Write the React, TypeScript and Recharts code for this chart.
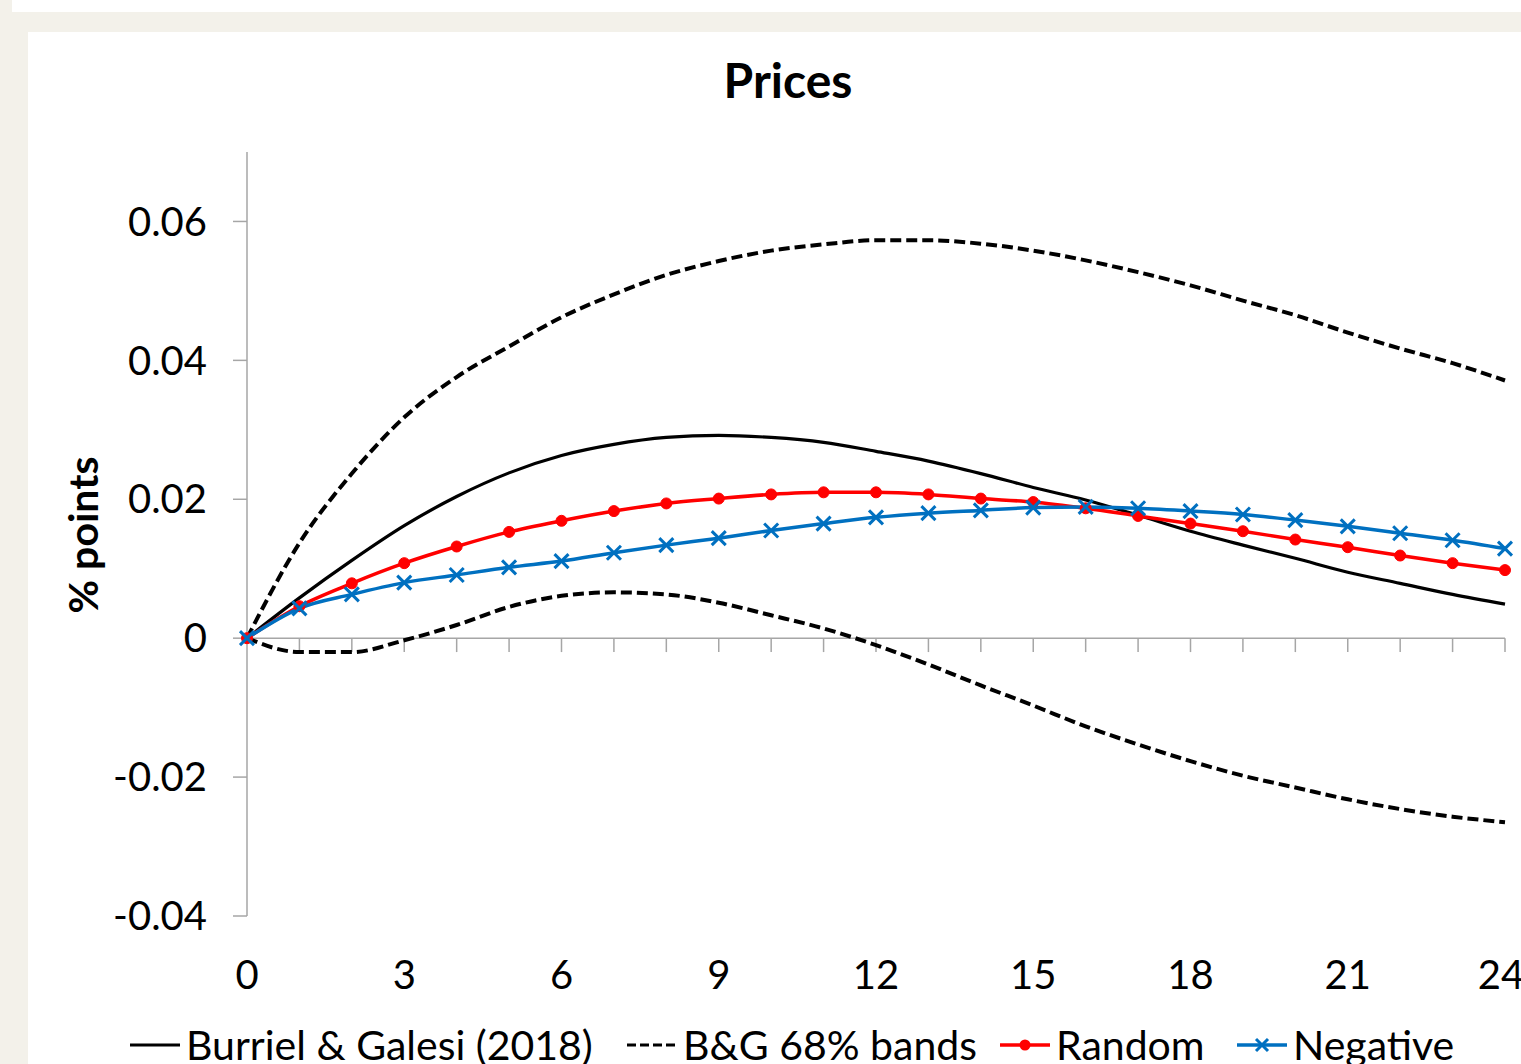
import { Line, LineChart, ReferenceLine, XAxis, YAxis } from "recharts";

const months = [0, 1, 2, 3, 4, 5, 6, 7, 8, 9, 10, 11, 12, 13, 14, 15, 16, 17, 18, 19, 20, 21, 22, 23, 24];

const burrielGalesi = [
  0, 0.0058, 0.0112, 0.0162, 0.0204, 0.0238, 0.0263, 0.0279, 0.0289, 0.0292, 0.0289, 0.0282, 0.0269,
  0.0255, 0.0237, 0.0217, 0.0199, 0.0177, 0.0154, 0.0134, 0.0115, 0.0095, 0.0079, 0.0063, 0.0049,
];

const bandUpper = [
  0, 0.0137, 0.0237, 0.0318, 0.0376, 0.042, 0.0462, 0.0495, 0.0523, 0.0543, 0.0558, 0.0567, 0.0573,
  0.0573, 0.0568, 0.0558, 0.0544, 0.0527, 0.0508, 0.0486, 0.0465, 0.044, 0.0417, 0.0396, 0.0371,
];

const bandLower = [
  0, -0.002, -0.002, -0.0003, 0.0019, 0.0045, 0.0061, 0.0066, 0.0063, 0.0051, 0.0033, 0.0014, -0.001,
  -0.0038, -0.0068, -0.0097, -0.0127, -0.0153, -0.0177, -0.0198, -0.0215, -0.0232, -0.0246, -0.0257, -0.0265,
];

const random = [
  0, 0.0046, 0.0079, 0.0108, 0.0132, 0.0153, 0.0169, 0.0183, 0.0194, 0.0201, 0.0207, 0.021, 0.021,
  0.0207, 0.0201, 0.0196, 0.0187, 0.0176, 0.0165, 0.0154, 0.0142, 0.0131, 0.0119, 0.0108, 0.0098,
];

const negative = [
  0, 0.0043, 0.0063, 0.008, 0.0091, 0.0102, 0.0111, 0.0123, 0.0134, 0.0144, 0.0155, 0.0165, 0.0174,
  0.018, 0.0184, 0.0188, 0.0189, 0.0187, 0.0183, 0.0178, 0.017, 0.0161, 0.0151, 0.0141, 0.0129,
];

const xTicks = [0, 3, 6, 9, 12, 15, 18, 21, 24];
const yTicks = [-0.04, -0.02, 0, 0.02, 0.04, 0.06];

const data = months.map((m, i) => ({
  month: m,
  bg: burrielGalesi[i],
  upper: bandUpper[i],
  lower: bandLower[i],
  random: random[i],
  negative: negative[i],
}));

const AXIS = "#a6a6a6";
const RED = "#ff0000";
const BLUE = "#0070c0";
const FONT = "Lato, 'Open Sans', sans-serif";

function CrossDot(props: { cx?: number; cy?: number; index?: number }) {
  const { cx, cy, index } = props;
  if (cx == null || cy == null) return null;
  const s = 7;
  return (
    <g key={`x-${index}`}>
      <line x1={cx - s} y1={cy - s} x2={cx + s} y2={cy + s} stroke={BLUE} strokeWidth={3} />
      <line x1={cx - s} y1={cy + s} x2={cx + s} y2={cy - s} stroke={BLUE} strokeWidth={3} />
    </g>
  );
}

function LegendItem({ kind, label, left }: { kind: string; label: string; left: number }) {
  return (
    <div style={{ position: "absolute", left, top: 0, display: "flex", alignItems: "center" }}>
      <svg width={54} height={20} style={{ marginRight: 4 }}>
        {kind === "solid" && <line x1={2} y1={10} x2={52} y2={10} stroke="#000" strokeWidth={3} />}
        {kind === "dash" && (
          <line x1={2} y1={10} x2={52} y2={10} stroke="#000" strokeWidth={3} strokeDasharray="9 4" />
        )}
        {kind === "random" && (
          <>
            <line x1={2} y1={10} x2={52} y2={10} stroke={RED} strokeWidth={3.5} />
            <circle cx={27} cy={10} r={5.5} fill={RED} />
          </>
        )}
        {kind === "negative" && (
          <>
            <line x1={2} y1={10} x2={52} y2={10} stroke={BLUE} strokeWidth={3.5} />
            <line x1={21} y1={4} x2={33} y2={16} stroke={BLUE} strokeWidth={3} />
            <line x1={21} y1={16} x2={33} y2={4} stroke={BLUE} strokeWidth={3} />
          </>
        )}
      </svg>
      <span>{label}</span>
    </div>
  );
}

export default function App() {
  return (
    <div
      style={{
        position: "absolute",
        left: 0,
        top: 0,
        width: 1521,
        height: 1064,
        overflow: "hidden",
        background: "#f3f1ea",
        fontFamily: FONT,
      }}
    >
      <div style={{ position: "absolute", left: 12, top: 0, width: 1509, height: 12, background: "#fff" }} />
      <div style={{ position: "absolute", left: 28, top: 32, right: 0, bottom: 0, background: "#fff" }} />
      <div
        style={{
          position: "absolute",
          left: 0,
          width: 1576,
          top: 51,
          textAlign: "center",
          fontSize: 48,
          fontWeight: 700,
          lineHeight: "58px",
        }}
      >
        Prices
      </div>
      <LineChart
        width={1521}
        height={1064}
        data={data}
        margin={{ top: 152, right: 16, bottom: 68, left: 0 }}
        style={{ position: "absolute", left: 0, top: 0 }}
      >
        <XAxis
          dataKey="month"
          type="number"
          domain={[0, 24]}
          ticks={xTicks}
          axisLine={false}
          tickLine={false}
          tickSize={0}
          tickMargin={45}
          height={80}
          tick={{ fontSize: 40, fill: "#000", fontFamily: FONT }}
        />
        <YAxis
          type="number"
          domain={[-0.04, 0.07]}
          ticks={yTicks}
          width={247}
          axisLine={{ stroke: AXIS, strokeWidth: 1.5 }}
          tickLine={{ stroke: AXIS, strokeWidth: 1.5 }}
          tickSize={14}
          tickMargin={26}
          tickFormatter={(v: number) => (v === 0 ? "0" : v.toFixed(2))}
          tick={{ fontSize: 40, fill: "#000", fontFamily: FONT }}
          label={{
            content: () => (
              <text
                x={82}
                y={535}
                transform="rotate(-90 82 535)"
                textAnchor="middle"
                dominantBaseline="central"
                fontSize={41}
                fontWeight={700}
                fontFamily={FONT}
                fill="#000"
              >
                % points
              </text>
            ),
          }}
        />
        <ReferenceLine y={0} stroke={AXIS} strokeWidth={1.5} />
        {months.slice(1).map((m) => (
          <ReferenceLine
            key={`tick-${m}`}
            segment={[
              { x: m, y: 0 },
              { x: m, y: -0.002 },
            ]}
            stroke={AXIS}
            strokeWidth={1.5}
          />
        ))}
        <Line
          dataKey="bg"
          type="monotone"
          stroke="#000"
          strokeWidth={3.2}
          dot={false}
          activeDot={false}
          isAnimationActive={false}
        />
        <Line
          dataKey="upper"
          type="monotone"
          stroke="#000"
          strokeWidth={4}
          strokeDasharray="11 5"
          dot={false}
          activeDot={false}
          isAnimationActive={false}
        />
        <Line
          dataKey="lower"
          type="monotone"
          stroke="#000"
          strokeWidth={4}
          strokeDasharray="11 5"
          dot={false}
          activeDot={false}
          isAnimationActive={false}
        />
        <Line
          dataKey="random"
          type="monotone"
          stroke={RED}
          strokeWidth={3.5}
          dot={{ r: 5.5, fill: RED, stroke: RED, strokeWidth: 1 }}
          activeDot={false}
          isAnimationActive={false}
        />
        <Line
          dataKey="negative"
          type="monotone"
          stroke={BLUE}
          strokeWidth={3.5}
          dot={<CrossDot />}
          activeDot={false}
          isAnimationActive={false}
        />
      </LineChart>
      <div
        style={{
          position: "absolute",
          left: 0,
          top: 1018,
          width: 1521,
          height: 54,
          fontSize: 41,
          lineHeight: "54px",
          whiteSpace: "nowrap",
        }}
      >
        <LegendItem kind="solid" label="Burriel & Galesi (2018)" left={128} />
        <LegendItem kind="dash" label="B&G 68% bands" left={625} />
        <LegendItem kind="random" label="Random" left={998} />
        <LegendItem kind="negative" label="Negative" left={1235} />
      </div>
    </div>
  );
}
